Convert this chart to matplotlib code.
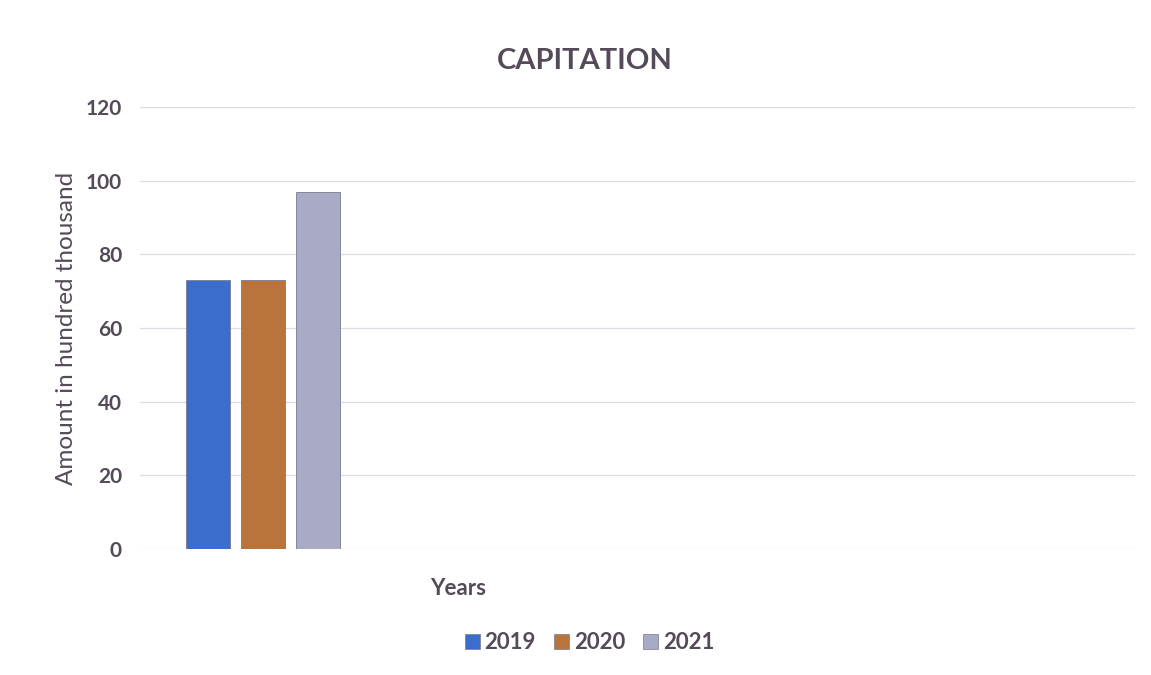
import matplotlib
matplotlib.use("Agg")
import matplotlib.pyplot as plt
from matplotlib.patches import Patch

years = ["2019", "2020", "2021"]
values = [73, 73, 97]
colors = ["#3b6dcc", "#b8743a", "#a9aac6"]
yticks = [0, 20, 40, 60, 80, 100, 120]

plt.rcParams['font.family'] = ['Lato', 'DejaVu Sans']
txt = "#554a58"

fig = plt.figure(figsize=(11.51, 6.75), dpi=100)
ax = fig.add_axes([0.1216, 0.1867, 0.8644, 0.6548])

offsets = [-1, 0, 1]
for o, v, c in zip(offsets, values, colors):
    ax.bar(o, v, width=0.8, color=c, edgecolor="#7a7a90", linewidth=0.6, zorder=3)

ax.set_xlim(-2.245, 15.85)
ax.set_ylim(0, 120)
ax.set_yticks(yticks)
ax.set_yticklabels([str(t) for t in yticks], fontsize=15, fontweight='bold', color=txt)
ax.set_xticks([])
ax.tick_params(axis='y', length=0, pad=13)
ax.grid(axis='y', color="#dcdce4", linewidth=0.9, zorder=0)
for s in ax.spines.values():
    s.set_visible(False)

ax.set_ylabel("Amount in hundred thousand", fontsize=17.5, color=txt, labelpad=6)
ax.set_xlabel("Years", fontsize=16, fontweight='bold', color=txt, labelpad=20)
ax.xaxis.set_label_coords(0.32, -0.065)
fig.text(0.508, 0.91, "CAPITATION", ha='center', va='center', fontsize=21, fontweight='bold', color=txt)

handles = [Patch(facecolor=c, edgecolor="#7a7a90", linewidth=0.5) for c in colors]
leg = fig.legend(handles, years, loc='center', bbox_to_anchor=(0.512, 0.048), ncol=3, frameon=False,
                 fontsize=16, handlelength=0.7, handleheight=0.7, handletextpad=0.2, columnspacing=0.8)
for t in leg.get_texts():
    t.set_color(txt)
    t.set_fontweight('bold')

fig.savefig("out.png", dpi=100, facecolor='white')
